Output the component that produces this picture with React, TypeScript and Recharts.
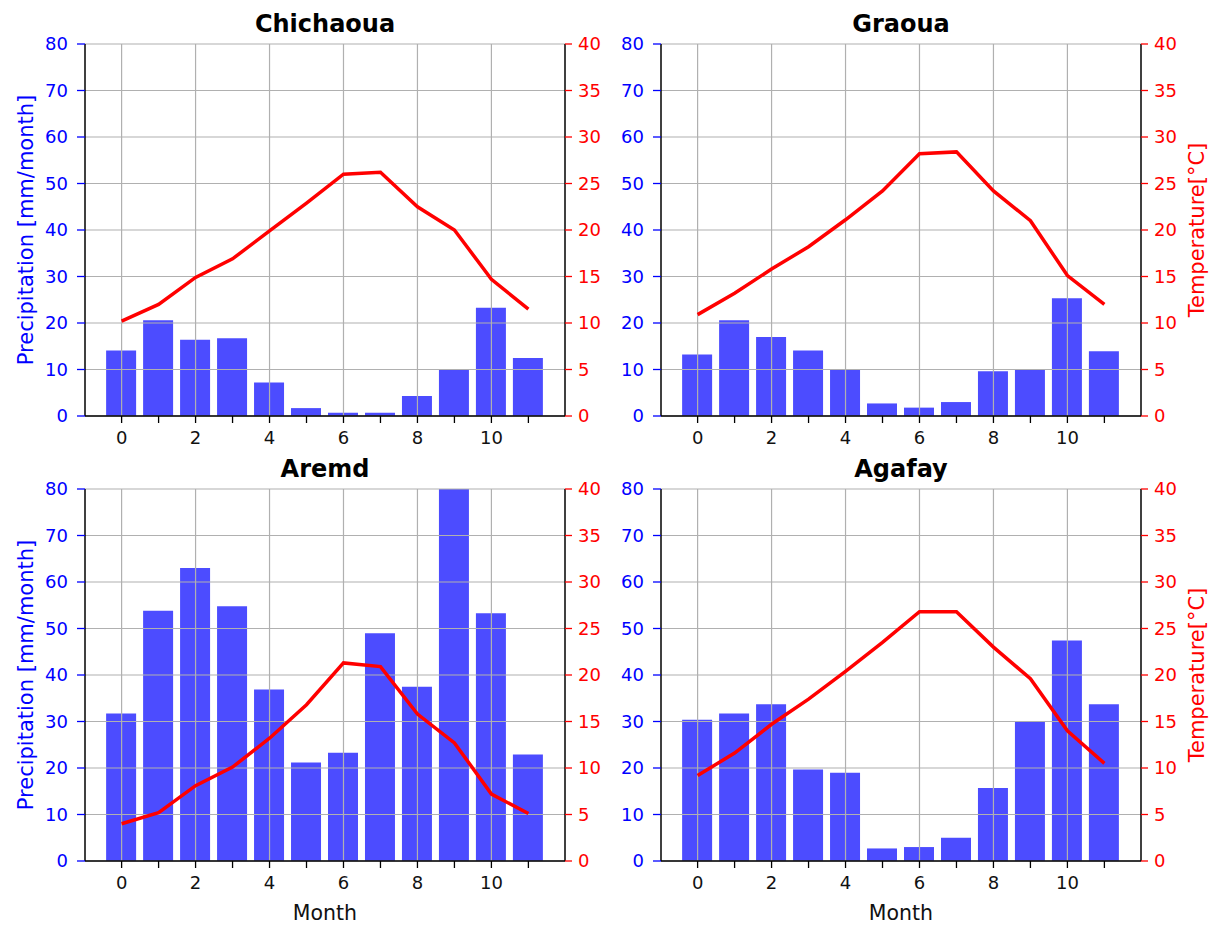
import React from 'react';
import { ComposedChart, Bar, Line, XAxis, YAxis, CartesianGrid } from 'recharts';

const MONTHS = [0, 1, 2, 3, 4, 5, 6, 7, 8, 9, 10, 11];
const X_TICKS = [0, 1, 2, 3, 4, 5, 6, 7, 8, 9, 10, 11];
const X_GRID = [0, 2, 4, 6, 8, 10];
const PRECIP_TICKS = [0, 10, 20, 30, 40, 50, 60, 70, 80];
const TEMP_TICKS = [0, 5, 10, 15, 20, 25, 30, 35, 40];

const chichaouaPrecip = [14.1, 20.6, 16.4, 16.7, 7.2, 1.7, 0.7, 0.7, 4.3, 10.0, 23.3, 12.5];
const chichaouaTemp = [10.2, 12.0, 14.9, 16.9, 19.9, 22.9, 26.0, 26.2, 22.5, 20.0, 14.7, 11.5];
const graouaPrecip = [13.2, 20.6, 17.0, 14.1, 10.0, 2.7, 1.8, 3.0, 9.6, 10.0, 25.3, 13.9];
const graouaTemp = [10.9, 13.2, 15.8, 18.2, 21.1, 24.2, 28.2, 28.4, 24.2, 21.0, 15.1, 12.0];
const aremdPrecip = [31.7, 53.8, 63.0, 54.8, 36.9, 21.2, 23.3, 49.0, 37.5, 84.0, 53.3, 22.9];
const aremdTemp = [4.0, 5.2, 8.1, 10.1, 13.2, 16.8, 21.3, 20.9, 15.8, 12.7, 7.2, 5.1];
const agafayPrecip = [30.4, 31.7, 33.7, 19.7, 19.0, 2.7, 3.0, 5.0, 15.7, 29.9, 47.4, 33.7];
const agafayTemp = [9.2, 11.6, 14.7, 17.4, 20.4, 23.5, 26.8, 26.8, 23.0, 19.6, 14.0, 10.5];

const FONT = "'DejaVu Sans', sans-serif";
const PLOT_W = 480;
const PLOT_H = 372;
const LW = 60;
const RW = 60;
const TOPM = 10;
const XH = 40;

type PanelProps = {
  title: string;
  precip: number[];
  temp: number[];
  plotLeft: number;
  plotTop: number;
};

function Panel({ precip, temp, plotLeft, plotTop }: PanelProps) {
  const data = MONTHS.map((m, i) => ({ month: m, precip: precip[i], temp: temp[i] }));
  return (
    <div style={{ position: 'absolute', left: plotLeft - LW, top: plotTop - TOPM }}>
      <ComposedChart
        width={LW + PLOT_W + RW}
        height={TOPM + PLOT_H + XH}
        data={data}
        margin={{ top: TOPM, right: 0, bottom: 0, left: 0 }}
      >
        <XAxis
          dataKey="month"
          type="number"
          domain={[-0.99, 11.99]}
          allowDataOverflow
          ticks={X_TICKS}
          interval={0}
          height={XH}
          tickSize={7}
          tickMargin={8}
          tickFormatter={(v: number) => (v % 2 === 0 ? String(v) : '')}
          axisLine={{ stroke: '#000', strokeWidth: 1.5 }}
          tickLine={{ stroke: '#000', strokeWidth: 1.3 }}
          tick={{ fill: '#111', fontSize: 18, fontFamily: FONT }}
        />
        <XAxis
          xAxisId="top"
          orientation="top"
          type="number"
          domain={[-0.99, 11.99]}
          allowDataOverflow
          height={0}
          tick={false}
          tickLine={false}
          axisLine={{ stroke: '#000', strokeWidth: 1.5 }}
        />
        <YAxis
          yAxisId="left"
          orientation="left"
          type="number"
          domain={[0, 80]}
          allowDataOverflow
          ticks={PRECIP_TICKS}
          interval={0}
          width={LW}
          tickSize={8}
          tickMargin={9}
          axisLine={{ stroke: '#000', strokeWidth: 1.5 }}
          tickLine={{ stroke: 'blue', strokeWidth: 1.3 }}
          tick={{ fill: 'blue', fontSize: 18, fontFamily: FONT }}
        />
        <YAxis
          yAxisId="right"
          orientation="right"
          type="number"
          domain={[0, 40]}
          allowDataOverflow
          ticks={TEMP_TICKS}
          interval={0}
          width={RW}
          tickSize={7}
          tickMargin={6}
          axisLine={{ stroke: '#000', strokeWidth: 1.5 }}
          tickLine={{ stroke: 'red', strokeWidth: 1.3 }}
          tick={{ fill: 'red', fontSize: 18, fontFamily: FONT }}
        />
        <Bar
          dataKey="precip"
          yAxisId="left"
          fill="blue"
          fillOpacity={0.7}
          barSize={30}
          isAnimationActive={false}
        />
        <CartesianGrid
          yAxisId="left"
          verticalValues={X_GRID}
          stroke="#b0b0b0"
          strokeWidth={1.2}
          strokeDasharray=""
          zIndex={350}
        />
        <Line
          dataKey="temp"
          yAxisId="right"
          type="linear"
          stroke="red"
          strokeWidth={3.5}
          dot={false}
          activeDot={false}
          isAnimationActive={false}
        />
      </ComposedChart>
    </div>
  );
}

const PANELS = [
  { title: 'Chichaoua', precip: chichaouaPrecip, temp: chichaouaTemp, plotLeft: 85, plotTop: 44, leftLabel: true, rightLabel: false, xLabel: false },
  { title: 'Graoua', precip: graouaPrecip, temp: graouaTemp, plotLeft: 661, plotTop: 44, leftLabel: false, rightLabel: true, xLabel: false },
  { title: 'Aremd', precip: aremdPrecip, temp: aremdTemp, plotLeft: 85, plotTop: 489, leftLabel: true, rightLabel: false, xLabel: true },
  { title: 'Agafay', precip: agafayPrecip, temp: agafayTemp, plotLeft: 661, plotTop: 489, leftLabel: false, rightLabel: true, xLabel: true },
];

export default function App() {
  return (
    <div style={{ position: 'absolute', left: 0, top: 0, width: 1221, height: 927, background: '#fff' }}>
      {PANELS.map((p) => (
        <Panel key={p.title} title={p.title} precip={p.precip} temp={p.temp} plotLeft={p.plotLeft} plotTop={p.plotTop} />
      ))}
      <svg
        width={1221}
        height={927}
        style={{ position: 'absolute', left: 0, top: 0, pointerEvents: 'none' }}
      >
        {PANELS.map((p) => {
          const cx = p.plotLeft + PLOT_W / 2;
          const cy = p.plotTop + PLOT_H / 2;
          return (
            <g key={p.title}>
              <text x={cx} y={p.plotTop - 12} textAnchor="middle" fontFamily={FONT} fontWeight="bold" fontSize={24} fill="#000">
                {p.title}
              </text>
              {p.leftLabel && (
                <text transform={`translate(${p.plotLeft - 52},${cy}) rotate(-90)`} textAnchor="middle" fontFamily={FONT} fontSize={21} fill="blue">
                  Precipitation [mm/month]
                </text>
              )}
              {p.rightLabel && (
                <text transform={`translate(${p.plotLeft + PLOT_W + 63},${cy}) rotate(-90)`} textAnchor="middle" fontFamily={FONT} fontSize={21} fill="red">
                  Temperature[°C]
                </text>
              )}
              {p.xLabel && (
                <text x={cx} y={p.plotTop + PLOT_H + 59} textAnchor="middle" fontFamily={FONT} fontSize={20.5} fill="#111">
                  Month
                </text>
              )}
            </g>
          );
        })}
      </svg>
    </div>
  );
}
